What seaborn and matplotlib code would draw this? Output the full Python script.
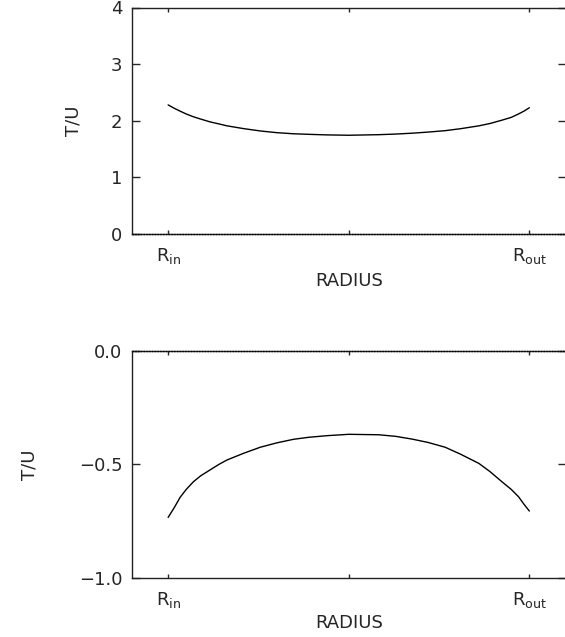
import matplotlib
matplotlib.use('Agg')
import matplotlib.pyplot as plt
import seaborn as sns
import pandas as pd

# radius as fraction of the way from R_in to R_out
radius = [0.0, 0.017, 0.033, 0.05, 0.07, 0.09, 0.116, 0.14, 0.163, 0.21, 0.255,
          0.3, 0.347, 0.39, 0.44, 0.5, 0.583, 0.63, 0.675, 0.72, 0.767,
          0.81, 0.86, 0.89, 0.924, 0.95, 0.97, 0.985, 1.0]
tu_upper = [2.28, 2.22, 2.17, 2.12, 2.07, 2.03, 1.98, 1.945, 1.91, 1.86, 1.82,
            1.79, 1.77, 1.76, 1.75, 1.744, 1.754, 1.765, 1.78, 1.80, 1.825,
            1.86, 1.91, 1.95, 2.01, 2.06, 2.12, 2.17, 2.23]
tu_lower = [-0.733, -0.69, -0.645, -0.61, -0.576, -0.55, -0.524, -0.50, -0.480, -0.45, -0.424,
            -0.405, -0.389, -0.38, -0.373, -0.367, -0.369, -0.376, -0.388, -0.403, -0.424,
            -0.455, -0.495, -0.53, -0.576, -0.61, -0.642, -0.675, -0.705]

x_ticks = [0.0, 0.5, 1.0]
x_ticklabels = [r'R$_{\mathregular{in}}$', '', r'R$_{\mathregular{out}}$']
upper_yticks = [0, 1, 2, 3, 4]
upper_yticklabels = ['0', '1', '2', '3', '4']
lower_yticks = [-1.0, -0.5, 0.0]
lower_yticklabels = ['\u22121.0', '\u22120.5', '0.0']

sns.set_style('white')
plt.rcParams['font.family'] = ['DejaVu Sans']
plt.rcParams['mathtext.default'] = 'regular'

fig = plt.figure(figsize=(5.65, 6.37), dpi=100)
ax_top = fig.add_axes([132 / 565, 1 - 234 / 637, 433.5 / 565, 226.5 / 637])
ax_bot = fig.add_axes([132 / 565, 1 - 578 / 637, 433.5 / 565, 227 / 637])

df = pd.DataFrame({'radius': radius, 'upper': tu_upper, 'lower': tu_lower})


def style_panel(ax, yticks, yticklabels, ylim, ylab_x, xlab_y):
    ax.set_xlim(-0.1, 1.1)
    ax.set_ylim(*ylim)
    ax.set_xticks(x_ticks)
    ax.set_xticklabels(x_ticklabels, fontsize=13)
    ax.set_yticks(yticks)
    ax.set_yticklabels(yticklabels, fontsize=13)
    ax.tick_params(axis='x', direction='in', length=3, width=1, top=True, bottom=True, pad=9)
    ax.tick_params(axis='y', direction='in', length=6, width=1, left=True, right=True, pad=7)
    ax.set_xlabel('RADIUS', fontsize=13)
    ax.set_ylabel('T/U', fontsize=13)
    ax.xaxis.set_label_coords(0.5, xlab_y)
    ax.yaxis.set_label_coords(ylab_x, 0.5)
    for s in ax.spines.values():
        s.set_linewidth(1.0)
        s.set_color('#222222')
    # dotted zero line over the spine
    ax.axhline(0, color='black', lw=1.0, ls=(0, (1, 1)), clip_on=False, zorder=5)


sns.lineplot(data=df, x='radius', y='upper', ax=ax_top, color='black', lw=1.0)
style_panel(ax_top, upper_yticks, upper_yticklabels, (0, 4), -0.115, -0.168)

sns.lineplot(data=df, x='radius', y='lower', ax=ax_bot, color='black', lw=1.0)
style_panel(ax_bot, lower_yticks, lower_yticklabels, (-1.0, 0.0), -0.215, -0.159)

fig.savefig('out.png', dpi=100)
